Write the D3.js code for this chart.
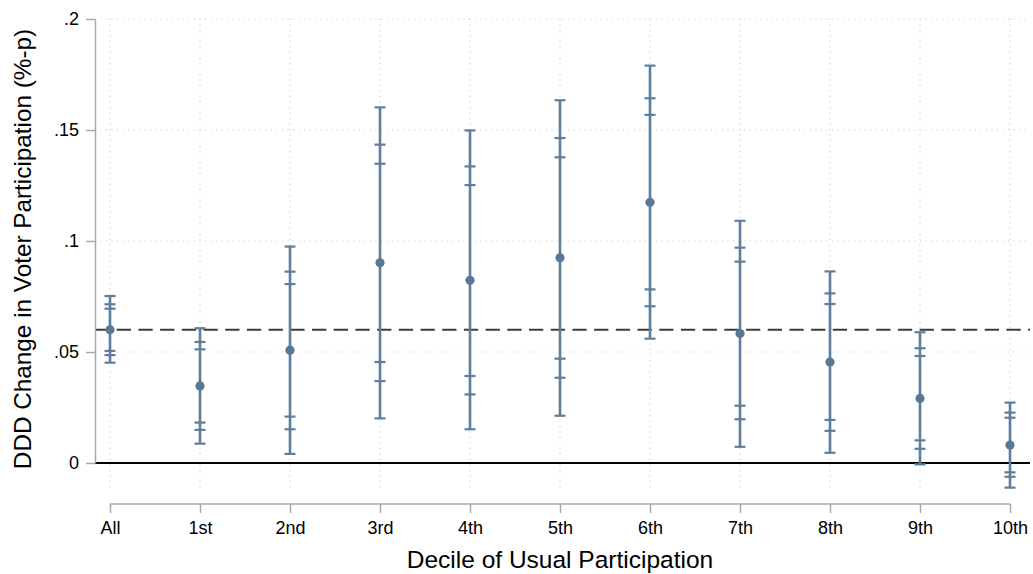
<!DOCTYPE html>
<html>
<head>
<meta charset="utf-8">
<script src="https://cdn.jsdelivr.net/npm/d3@7"></script>
<style>
  html, body { margin: 0; padding: 0; background: #fff; }
  svg { display: block; font-family: "Liberation Sans", Arial, sans-serif; }
</style>
</head>
<body>
<svg id="chart" width="1033" height="574"></svg>
<script>
// Deciles of usual participation (plus the pooled estimate)
const categories = ["All", "1st", "2nd", "3rd", "4th", "5th", "6th", "7th", "8th", "9th", "10th"];

// Point estimates
const estimate = [0.0600, 0.0347, 0.0508, 0.0902, 0.0823, 0.0925, 0.1174, 0.0583, 0.0455, 0.0291, 0.0081];

// Confidence bounds: inner, middle and outer intervals
const innerLow  = [0.0505, 0.0182, 0.0209, 0.0455, 0.0392, 0.0470, 0.0782, 0.0258, 0.0194, 0.0102, -0.0042];
const innerHigh = [0.0695, 0.0512, 0.0806, 0.1348, 0.1252, 0.1377, 0.1568, 0.0907, 0.0716, 0.0482, 0.0204];
const midLow    = [0.0486, 0.0149, 0.0152, 0.0369, 0.0309, 0.0384, 0.0706, 0.0197, 0.0145, 0.0064, -0.0062];
const midHigh   = [0.0715, 0.0545, 0.0862, 0.1434, 0.1336, 0.1464, 0.1643, 0.0970, 0.0764, 0.0517, 0.0227];
const outerLow  = [0.0452, 0.0087, 0.0041, 0.0201, 0.0152, 0.0213, 0.0560, 0.0073, 0.0046, -0.0006, -0.0111];
const outerHigh = [0.0752, 0.0607, 0.0975, 0.1602, 0.1498, 0.1634, 0.1790, 0.1091, 0.0863, 0.0589, 0.0272];

// Reference line: the pooled estimate
const referenceValue = 0.0600;

// Y axis ticks and labels
const yTicks = [0, 0.05, 0.1, 0.15, 0.2];
const yTickLabels = ["0", ".05", ".1", ".15", ".2"];

const xTitle = "Decile of Usual Participation";
const yTitle = "DDD Change in Voter Participation (%-p)";

const svg = d3.select("#chart");

const plotLeft = 95, plotRight = 1030, plotTop = 19, plotBottom = 490;
const xAxisY = 504;
const fontStack = "'Liberation Sans', Arial, sans-serif";

const x = d3.scalePoint().domain(categories).range([110, 1010]);
const y = d3.scaleLinear().domain([0, 0.2]).range([463, 19]);

const barColor = "#5e7e9b";
const gridColor = "#c8c8c8";

// Horizontal dotted gridlines
svg.append("g").selectAll("line")
  .data(yTicks.filter(d => d !== 0))
  .join("line")
  .attr("x1", plotLeft).attr("x2", plotRight)
  .attr("y1", d => y(d)).attr("y2", d => y(d))
  .attr("stroke", gridColor).attr("stroke-width", 1.2)
  .attr("stroke-dasharray", "1,4.5");

// Vertical dotted gridlines at each category
svg.append("g").selectAll("line")
  .data(categories)
  .join("line")
  .attr("x1", d => x(d)).attr("x2", d => x(d))
  .attr("y1", plotTop).attr("y2", plotBottom)
  .attr("stroke", gridColor).attr("stroke-width", 1.2)
  .attr("stroke-dasharray", "1,4.5");

// Zero line
svg.append("line")
  .attr("x1", plotLeft).attr("x2", plotRight)
  .attr("y1", y(0)).attr("y2", y(0))
  .attr("stroke", "#000").attr("stroke-width", 2);

// Dashed reference line
svg.append("line")
  .attr("x1", plotLeft).attr("x2", plotRight)
  .attr("y1", y(referenceValue)).attr("y2", y(referenceValue))
  .attr("stroke", "#3c3c3c").attr("stroke-width", 2)
  .attr("stroke-dasharray", "14.3,7.4");

// Y axis
const yAxis = d3.axisLeft(y)
  .tickValues(yTicks)
  .tickFormat((d, i) => yTickLabels[i])
  .tickSize(9).tickSizeOuter(0).tickPadding(7);
const gy = svg.append("g").attr("transform", `translate(${plotLeft},0)`).call(yAxis);
gy.select(".domain").attr("stroke", "#a8a8a8").attr("stroke-width", 1.5);
gy.selectAll(".tick line").attr("stroke", "#a8a8a8").attr("stroke-width", 1.5);
gy.selectAll(".tick text").attr("fill", "#000").style("font-size", "18px")
  .style("font-family", fontStack);

// X axis
const xAxis = d3.axisBottom(x).tickSize(9).tickSizeOuter(0).tickPadding(8);
const gx = svg.append("g").attr("transform", `translate(0,${xAxisY})`).call(xAxis);
gx.select(".domain").attr("stroke", "#a8a8a8").attr("stroke-width", 1.5)
  .attr("d", `M${x(categories[0])},0H${x(categories[categories.length - 1])}`);
gx.selectAll(".tick line").attr("stroke", "#a8a8a8").attr("stroke-width", 1.5);
gx.selectAll(".tick text").attr("fill", "#000").style("font-size", "18px")
  .style("font-family", fontStack);

// Error bars
const rows = categories.map((c, i) => ({
  c, est: estimate[i],
  caps: [innerLow[i], innerHigh[i], midLow[i], midHigh[i], outerLow[i], outerHigh[i]],
  lo: outerLow[i], hi: outerHigh[i]
}));

const bars = svg.append("g");
bars.selectAll("line.stem")
  .data(rows)
  .join("line")
  .attr("class", "stem")
  .attr("x1", d => x(d.c)).attr("x2", d => x(d.c))
  .attr("y1", d => y(d.lo)).attr("y2", d => y(d.hi))
  .attr("stroke", barColor).attr("stroke-width", 2.6);

bars.selectAll("g.caps")
  .data(rows)
  .join("g")
  .attr("class", "caps")
  .selectAll("line")
  .data(d => d.caps.map(v => ({ c: d.c, v })))
  .join("line")
  .attr("x1", d => x(d.c) - 5.5).attr("x2", d => x(d.c) + 5.5)
  .attr("y1", d => y(d.v)).attr("y2", d => y(d.v))
  .attr("stroke", barColor).attr("stroke-width", 2.2);

bars.selectAll("circle")
  .data(rows)
  .join("circle")
  .attr("cx", d => x(d.c)).attr("cy", d => y(d.est))
  .attr("r", 4.6)
  .attr("fill", "#587897");

// Axis titles
svg.append("text")
  .attr("x", (x(categories[0]) + x(categories[categories.length - 1])) / 2)
  .attr("y", 568)
  .attr("text-anchor", "middle")
  .style("font-size", "24.5px")
  .text(xTitle);

svg.append("text")
  .attr("transform", `translate(31,${249}) rotate(-90)`)
  .attr("text-anchor", "middle")
  .style("font-size", "24.3px")
  .text(yTitle);
</script>
</body>
</html>
